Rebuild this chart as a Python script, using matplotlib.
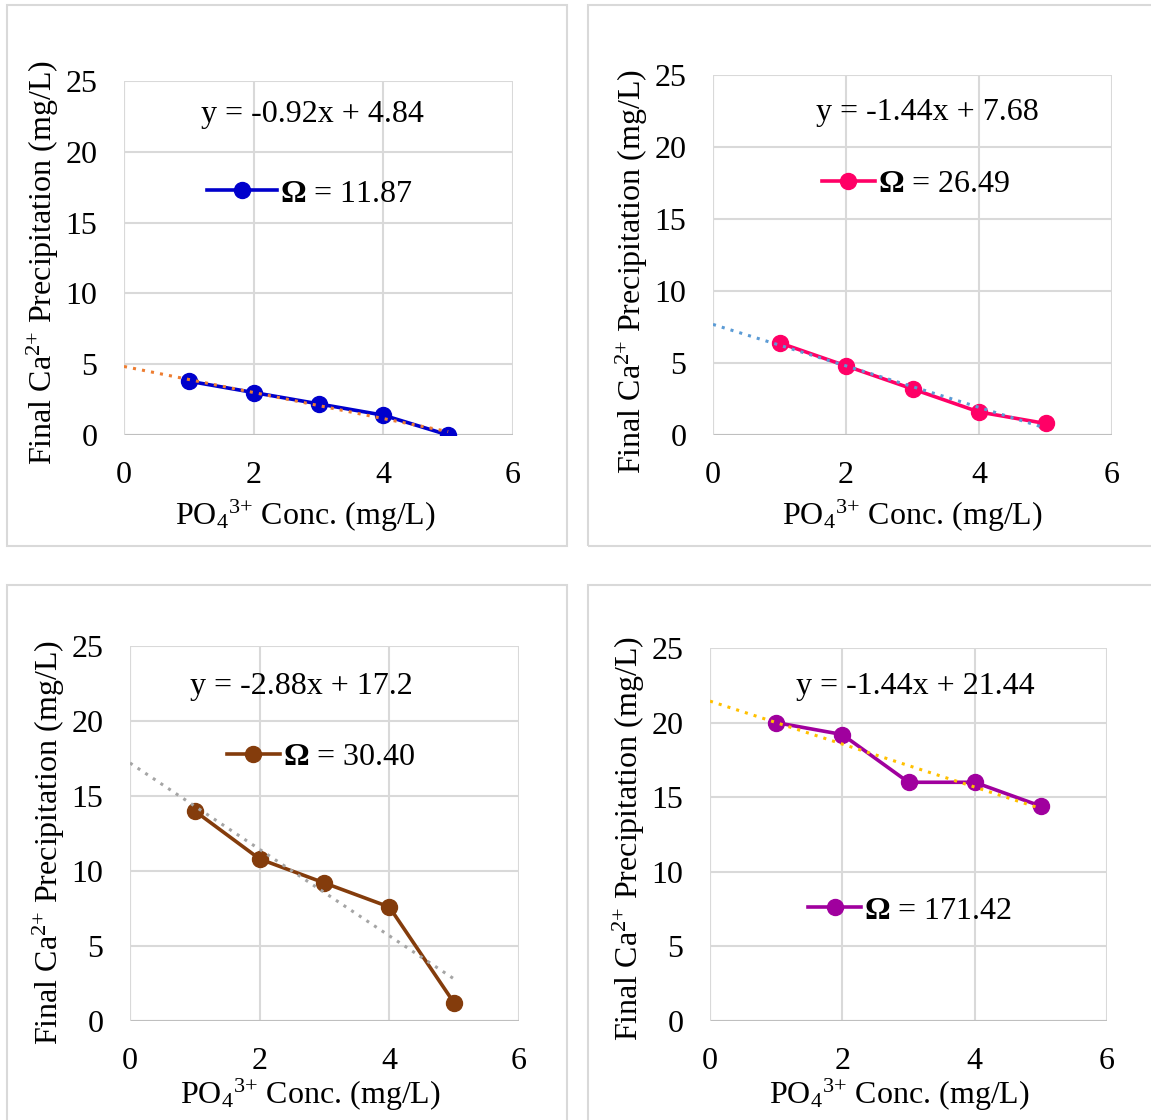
import matplotlib
matplotlib.use("Agg")
import matplotlib.pyplot as plt
import numpy as np
from matplotlib.patches import Rectangle

plt.rcParams['font.family'] = ['Liberation Serif', 'DejaVu Serif']
plt.rcParams['mathtext.fontset'] = 'custom'
plt.rcParams['mathtext.rm'] = 'Liberation Serif'
plt.rcParams['mathtext.it'] = 'Liberation Serif:italic'
plt.rcParams['mathtext.bf'] = 'Liberation Serif:bold'

# ---- data ----
x_conc = [1, 2, 3, 4, 5]
y_p1 = [3.8, 3.0, 2.2, 1.4, 0.0]
y_p2 = [6.4, 4.8, 3.2, 1.6, 0.8]
y_p3 = [14.0, 10.8, 9.2, 7.6, 1.2]
y_p4 = [20.0, 19.2, 16.0, 16.0, 14.4]
omega_labels = ["11.87", "26.49", "30.40", "171.42"]
equations = ["y = -0.92x + 4.84", "y = -1.44x + 7.68",
             "y = -2.88x + 17.2", "y = -1.44x + 21.44"]
x_ticks = [0, 2, 4, 6]
y_ticks = [0, 5, 10, 15, 20, 25]

series = [y_p1, y_p2, y_p3, y_p4]
line_colors = ["#0000CC", "#FF0066", "#843C0C", "#A0009E"]
trend_colors = ["#ED7D31", "#5B9BD5", "#A5A5A5", "#FFC000"]

FS = 23
W, H = 1151, 1120
fig = plt.figure(figsize=(W / 100, H / 100), dpi=100)

# panel borders (pixels: x0, y0, x1, y1 from top-left)
borders = [(7, 5, 567, 546), (588, 5, 1160, 546), (7, 585, 567, 1130), (588, 585, 1160, 1130)]
for (x0, y0, x1, y1) in borders:
    fig.patches.append(Rectangle((x0 / W, 1 - y1 / H), (x1 - x0) / W, (y1 - y0) / H,
                                 transform=fig.transFigure, fill=False,
                                 edgecolor="#D9D9D9", linewidth=1.5))

# axes areas in pixels: left, right, top, bottom
areas = [(124, 513, 81, 435), (713, 1112, 75, 435), (130, 519, 646, 1021), (710, 1107, 648, 1021)]
eq_pos = [(2.9, 22.6), (3.23, 22.4), (2.65, 22.3), (3.11, 22.45)]
leg_pos = [(0.478, 0.681), (0.509, 0.697), (0.491, 0.704), (0.504, 0.295)]
handle_len = [2.2, 1.65, 1.65, 1.65]
xlabel_x = [0.465, 0.5, 0.463, 0.476]
ylabel_y = [0.486, 0.453, 0.477, 0.488]
xlabel_pad = [5, 5, 0, 0]

for i in range(4):
    l, r, t, b = areas[i]
    ax = fig.add_axes([l / W, 1 - b / H, (r - l) / W, (b - t) / H])
    ys = series[i]
    ax.set_xlim(0, 6)
    ax.set_ylim(0, 25)
    ax.set_xticks(x_ticks)
    ax.set_yticks(y_ticks)
    ax.grid(True, color="#D9D9D9", linewidth=1.5)
    ax.set_axisbelow(True)
    for s in ax.spines.values():
        s.set_visible(False)
    ax.axhline(0, color="#BFBFBF", linewidth=1.5, zorder=1)
    ax.axvline(0, color="#D9D9D9", linewidth=1.5, zorder=1)
    ax.tick_params(length=0, labelsize=FS)
    ax.tick_params(axis='x', pad=19)
    ax.tick_params(axis='y', pad=19)

    # trend line (linear fit, forecast back to 0)
    k, c = np.polyfit(x_conc, ys, 1)
    xt = np.array([0, x_conc[-1]])
    ax.plot(xt, k * xt + c, linestyle=(0, (1, 2)), color=trend_colors[i],
            linewidth=2.2, zorder=4)
    ax.plot(x_conc, ys, color=line_colors[i], linewidth=2.6, marker='o',
            markersize=11.5, zorder=3,
            label=r"$\mathbf{Ω}$ = " + omega_labels[i])
    ax.text(eq_pos[i][0], eq_pos[i][1], equations[i], ha='center', va='center',
            fontsize=FS)
    ax.legend(loc='center', bbox_to_anchor=leg_pos[i], frameon=False,
              fontsize=FS, handlelength=handle_len[i], handletextpad=0.1,
              borderpad=0, borderaxespad=0)
    ax.set_ylabel(r"Final Ca$^{\mathrm{2{+}}}$ Precipitation (mg/L)", fontsize=FS, labelpad=3)
    ax.set_xlabel(r"PO$_{\mathrm{4}}$$^{\mathrm{3{+}}}$ Conc. (mg/L)", fontsize=FS,
                  labelpad=xlabel_pad[i])
    ax.xaxis.label.set_x(xlabel_x[i])
    ax.yaxis.label.set_y(ylabel_y[i])

fig.savefig("out.png", dpi=100)
